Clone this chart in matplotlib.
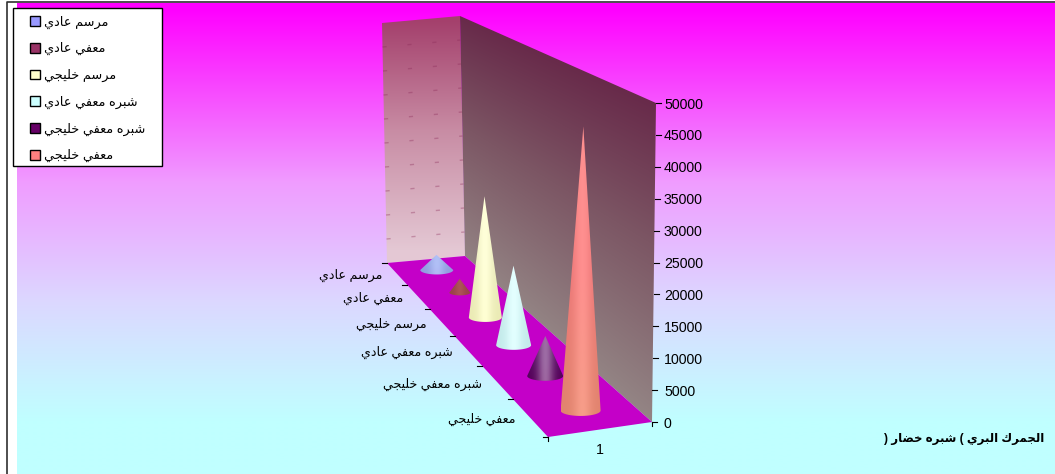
import matplotlib
matplotlib.use('Agg')
import matplotlib.pyplot as plt
import numpy as np
from matplotlib.colors import to_rgb
from matplotlib.patches import Patch, Polygon, Rectangle

plt.rcParams['font.family'] = ['Liberation Sans', 'DejaVu Sans']

categories = ['مرسم عادي', 'معفي عادي', 'مرسم خليجي', 'شبره معفي عادي', 'شبره معفي خليجي', 'معفي خليجي']
values = [3100, 2700, 22700, 14200, 6800, 45800]
colors = ['#9999FF', '#993366', '#FFFFCC', '#CCFFFF', '#660066', '#FF8080']
# the cones are washed out compared to the legend colours
cone_top = ['#9DB0F4', '#A84A50', '#FFFFCC', '#D8FFFF', '#5C0A68', '#FF8080']
cone_base = ['#9DA6F0', '#A8484E', '#FFFFC4', '#D4FFFF', '#5C0060', '#F59078']
cone_shine = [0.2, 0.05, 0.25, 0.3, 0.4, 0.12]
cone_radius = [16.5, 10.5, 16.5, 17.5, 18, 20]
value_ticks = [0, 5000, 10000, 15000, 20000, 25000, 30000, 35000, 40000, 45000, 50000]
series_label = '1'
axis_title = 'الجمرك البري ( شبره خضار )'

# no bidi or shaping in matplotlib, so pick the presentation forms by hand
# letter: isolated, final, initial, medial
FORMS = {
    'ا': (0xFE8D, 0xFE8E), 'د': (0xFEA9, 0xFEAA), 'ر': (0xFEAD, 0xFEAE),
    'ب': (0xFE8F, 0xFE90, 0xFE91, 0xFE92), 'ج': (0xFE9D, 0xFE9E, 0xFE9F, 0xFEA0),
    'خ': (0xFEA5, 0xFEA6, 0xFEA7, 0xFEA8), 'س': (0xFEB1, 0xFEB2, 0xFEB3, 0xFEB4),
    'ش': (0xFEB5, 0xFEB6, 0xFEB7, 0xFEB8), 'ض': (0xFEBD, 0xFEBE, 0xFEBF, 0xFEC0),
    'ع': (0xFEC9, 0xFECA, 0xFECB, 0xFECC), 'ف': (0xFED1, 0xFED2, 0xFED3, 0xFED4),
    'ك': (0xFED9, 0xFEDA, 0xFEDB, 0xFEDC), 'ل': (0xFEDD, 0xFEDE, 0xFEDF, 0xFEE0),
    'م': (0xFEE1, 0xFEE2, 0xFEE3, 0xFEE4), 'ه': (0xFEE9, 0xFEEA, 0xFEEB, 0xFEEC),
    'ي': (0xFEF1, 0xFEF2, 0xFEF3, 0xFEF4),
}

def arabic(text):
    out = []
    for i, ch in enumerate(text):
        if ch not in FORMS:
            out.append(ch)
            continue
        prev = text[i - 1] if i > 0 else ' '
        nxt = text[i + 1] if i < len(text) - 1 else ' '
        from_prev = prev in FORMS and len(FORMS[prev]) == 4
        to_next = nxt in FORMS and len(FORMS[ch]) == 4
        if from_prev and to_next:
            form = 3
        elif to_next:
            form = 2
        elif from_prev:
            form = 1
        else:
            form = 0
        out.append(chr(FORMS[ch][form]))
    return ''.join(out[::-1])

# floor corners of the 3D box in pixels
BACK_L = np.array([387, 263])
BACK_R = np.array([465, 256])
FRONT_L = np.array([548, 437])
FRONT_R = np.array([652, 422])
DEPTH = len(categories)

def depth_frac(d):
    u = d / DEPTH
    return u / (u + 1.38 * (1 - u))

def project(d, v, value=0):
    # d = depth in categories, v = across the floor 0..1
    t = depth_frac(d)
    left = BACK_L + (FRONT_L - BACK_L) * t
    right = BACK_R + (FRONT_R - BACK_R) * t
    p = left + (right - left) * v
    scale = (240 + 79 * t) / 50000
    lean = (-5 * (1 - t) + 4 * t) * value / 50000
    return p[0] + lean, p[1] - value * scale

def ramp(pos, stops, cols):
    cols = np.array([to_rgb(c) for c in cols])
    return np.stack([np.interp(pos, stops, cols[:, k]) for k in range(3)], axis=-1)

fig = plt.figure(figsize=(10.55, 4.74), dpi=100, facecolor='white')
ax = fig.add_axes([0, 0, 1, 1])
ax.axis('off')

def show(img, x0, x1, y0, y1, poly=None, zorder=1):
    im = ax.imshow(img, extent=(x0, x1, y1, y0), aspect='auto', zorder=zorder, interpolation='bilinear')
    if poly is not None:
        im.set_clip_path(Polygon(poly, closed=True, transform=ax.transData))
    return im

# background
yy = np.arange(474)[:, None]
show(ramp(yy, [5, 180, 300, 420], ['#FF00FF', '#F09CFF', '#DCD8FF', '#C0FFFF']), 17, 1055, 3, 474)
ax.plot([6.5, 6.5, 1055], [474, 2, 2], color='#303030', lw=1.2, zorder=2)

# back wall
top_bl = project(0, 0, 50000)
top_br = project(0, 1, 50000)
top_fr = project(DEPTH, 1, 50000)
base_bl, base_br, base_fr, base_fl = project(0, 0), project(0, 1), project(DEPTH, 1), project(DEPTH, 0)

xx, yy = np.meshgrid(np.arange(370, 670), np.arange(0, 440))
show(ramp(yy, [20, 130, 250], ['#A4406C', '#C88CA4', '#E4C8D4']), 370, 670, 0, 440,
     [top_bl, top_br, base_br, base_bl], zorder=3)

# side wall, shaded along the wall height
wall_x = (xx - top_br[0]) / (top_fr[0] - top_br[0])
wall_top = top_br[1] + (top_fr[1] - top_br[1]) * wall_x
wall_bot = base_br[1] + (base_fr[1] - base_br[1]) * wall_x
show(ramp((yy - wall_top) / (wall_bot - wall_top), [0, 0.45, 1], ['#682A4A', '#7C5664', '#938484']),
     370, 670, 0, 440, [top_br, top_fr, base_fr, base_br], zorder=3)

# dotted gridlines on the back wall
for val in value_ticks[1:-1]:
    a, b = project(0, 0, val), project(0, 1, val)
    ax.plot([a[0], b[0]], [a[1], b[1]], color='#8A2A58', lw=1, ls=(0, (3, 15)), alpha=0.35, zorder=4)

# floor
ax.add_patch(Polygon([base_bl, base_br, base_fr, base_fl], closed=True, facecolor='#C400C8', edgecolor='none', zorder=5))

# cones
for i, val in enumerate(values):
    cx, cy = project(i + 0.5, 0.5)
    tip_x, tip_y = project(i + 0.5, 0.5, val)
    r = cone_radius[i]
    ang = np.linspace(0, np.pi, 40)
    outline = [(tip_x, tip_y)] + [(cx + r * np.cos(a), cy + 0.27 * r * np.sin(a)) for a in ang]
    x0, x1 = min(cx, tip_x) - r, max(cx, tip_x) + r
    u = (np.linspace(x0, x1, 60) - (x0 + x1) / 2) / r
    light = np.exp(-(u / 0.45) ** 2)[None, :, None]
    body = ramp(np.linspace(0, 1, 50)[:, None], [0, 0.5, 1], [cone_top[i], cone_top[i], cone_base[i]])
    img = body * (0.92 + 0.08 * light) + (1 - body) * cone_shine[i] * light
    show(np.clip(img, 0, 1), x0, x1, tip_y, cy + 0.27 * r + 1, outline, zorder=6 + i)

# value axis
for val in value_ticks:
    x, y = project(DEPTH, 1, val)
    ax.plot([x, x + 5], [y, y], color='black', lw=0.8, zorder=20)
    ax.text(664, y + 1.5, str(val), fontsize=10.2, va='center', ha='left', color='black')

# category axis
for i in range(DEPTH + 1):
    x, y = project(i, 0)
    ax.plot([x - 5, x], [y, y], color='black', lw=0.8, zorder=20)
for i, name in enumerate(categories):
    x, y = project(i + 0.5, 0)
    ax.text(x - 15, y + 2, arabic(name), fontsize=9.1, ha='right', va='center', color='black')

# series axis
for v in (0, 1):
    x, y = project(DEPTH, v)
    ax.plot([x, x], [y, y + 4], color='black', lw=0.8, zorder=20)
x, y = project(DEPTH, 0.5)
ax.text(x, y + 21, series_label, fontsize=10.2, ha='center', va='center', color='black')

ax.text(1044, 439, arabic(axis_title), fontsize=8.5, fontweight='bold', ha='right', va='center', color='black')

ax.set_xlim(0, 1055)
ax.set_ylim(474, 0)

# frame drawn apart from the legend, the box is wider than its contents
ax.add_patch(Rectangle((13, 8), 149, 158, facecolor='white', edgecolor='black', lw=1, zorder=29))
handles = [Patch(facecolor=c, edgecolor='black', linewidth=1) for c in colors]
leg = ax.legend(handles, [arabic(c) for c in categories], loc='upper left', bbox_to_anchor=(30, 15.5),
                bbox_transform=ax.transData, fontsize=9.3, frameon=False, handlelength=0.8, handleheight=0.8,
                handletextpad=0.3, labelspacing=1.05, borderpad=0, borderaxespad=0)
leg.set_zorder(30)

fig.savefig('out.png', dpi=100)
